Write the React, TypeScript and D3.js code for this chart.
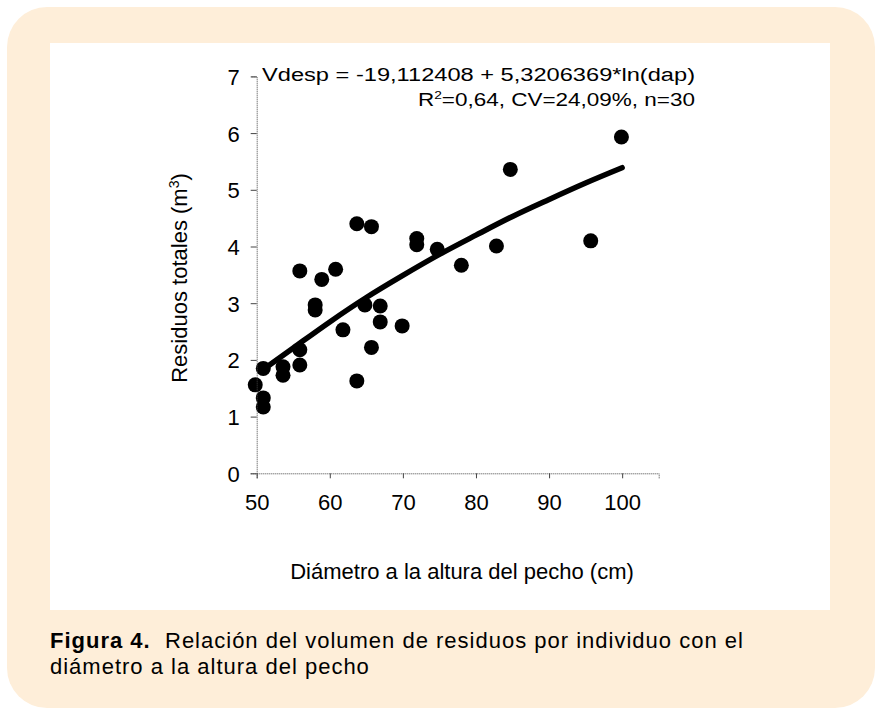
import React, { useRef, useEffect } from 'react';
import * as d3 from 'd3';

// diameter at breast height (cm) of each tree
const dap = [49.8, 50.9, 50.9, 50.9, 53.6, 53.6, 55.9, 55.9, 55.9, 58, 58, 58.9, 60.8, 61.8, 63.7,
  63.7, 64.8, 65.7, 65.7, 66.9, 66.9, 69.9, 71.9, 71.9, 74.7, 78, 82.8, 84.7, 95.7, 99.9];
// total residue volume (m3)
const residuos = [1.56, 1.85, 1.33, 1.17, 1.88, 1.73, 2.18, 1.91, 3.57, 2.97, 2.88, 3.42, 3.6, 2.53, 4.4,
  1.63, 2.97, 4.35, 2.22, 2.95, 2.67, 2.6, 4.14, 4.03, 3.95, 3.67, 4.01, 5.36, 4.1, 5.93];

// fitted curve
const fitX = [50.8, 55, 60, 65, 70, 75, 80, 85, 90, 95, 100];
const fitY = [1.82, 2.21, 2.67, 3.1, 3.49, 3.86, 4.2, 4.53, 4.83, 5.12, 5.39];

const xTicks = [50, 60, 70, 80, 90, 100];
const yTicks = [0, 1, 2, 3, 4, 5, 6, 7];

const W = 875;
const H = 709;
const FONT = '"Liberation Sans", Arial, Helvetica, sans-serif';

export default function App() {
  const svgRef = useRef(null);

  useEffect(() => {
    const svg = d3.select(svgRef.current);

    const x = d3.scaleLinear().domain([50, 105]).range([256.7, 658.7]);
    const y = d3.scaleLinear().domain([0, 7]).range([473.3, 76.4]);

    const xAxis = d3.axisBottom(x).tickValues(xTicks).tickFormat(d3.format('d')).tickSize(5).tickPadding(16);
    const yAxis = d3.axisLeft(y).tickValues(yTicks).tickFormat(d3.format('d')).tickSize(6).tickPadding(11);

    const gx = svg.select('.x-axis')
      .attr('transform', `translate(0,${y(0)})`)
      .call(xAxis);
    const gy = svg.select('.y-axis')
      .attr('transform', `translate(${x(50)},0)`)
      .call(yAxis);

    [gx, gy].forEach(g => {
      g.select('.domain').attr('stroke', '#444').attr('stroke-dasharray', '1 1');
      g.selectAll('.tick line').attr('stroke', '#444');
      g.selectAll('.tick text')
        .attr('fill', '#000')
        .style('font-family', FONT)
        .style('font-size', '22px');
    });
    gy.selectAll('.tick text').attr('dy', '0.36em');

    const line = d3.line<number>()
      .x((d, i) => x(fitX[i]))
      .y(d => y(d))
      .curve(d3.curveMonotoneX);

    svg.select('.fit')
      .selectAll('path')
      .data([fitY])
      .join('path')
      .attr('d', line)
      .attr('fill', 'none')
      .attr('stroke', '#000')
      .attr('stroke-width', 5.5)
      .attr('stroke-linecap', 'round');

    svg.select('.dots')
      .selectAll('circle')
      .data(dap)
      .join('circle')
      .attr('cx', d => x(d))
      .attr('cy', (d, i) => y(residuos[i]))
      .attr('r', 7.5)
      .attr('fill', '#000');
  }, []);

  return (
    <svg ref={svgRef} width={W} height={H}
      style={{ position: 'absolute', left: 0, top: 0, background: '#fff' }}>
      <rect x={7} y={7} width={868} height={701} rx={40} fill="#feeed9" />
      <rect x={50} y={43} width={780} height={567} fill="#fff" />
      <g className="fit" />
      <g className="dots" />
      <g className="x-axis" />
      <g className="y-axis" />

      <g fontFamily={FONT} fill="#000">
        <text x={695} y={81} textAnchor="end" fontSize={18} textLength={433} lengthAdjust="spacingAndGlyphs">
          Vdesp = -19,112408 + 5,3206369*ln(dap)
        </text>
        <text x={695} y={106} textAnchor="end" fontSize={18} textLength={277} lengthAdjust="spacingAndGlyphs">
          R<tspan fontSize={11} dy={-7}>2</tspan><tspan dy={7}>=0,64, CV=24,09%, n=30</tspan>
        </text>
        <text x={462} y={579} textAnchor="middle" fontSize={22}>
          Diámetro a la altura del pecho (cm)
        </text>
        <text transform="translate(187,278) rotate(-90)" textAnchor="middle" fontSize={22}>
          Residuos totales (m<tspan fontSize={14} dy={-8}>3</tspan><tspan dy={8}>)</tspan>
        </text>
        <text x={50} y={648} fontSize={22} letterSpacing={1}>
          <tspan fontWeight="bold">Figura 4.</tspan>
          <tspan x={165}>Relación del volumen de residuos por individuo con el</tspan>
        </text>
        <text x={50} y={674} fontSize={22} letterSpacing={1}>
          diámetro a la altura del pecho
        </text>
      </g>
    </svg>
  );
}
